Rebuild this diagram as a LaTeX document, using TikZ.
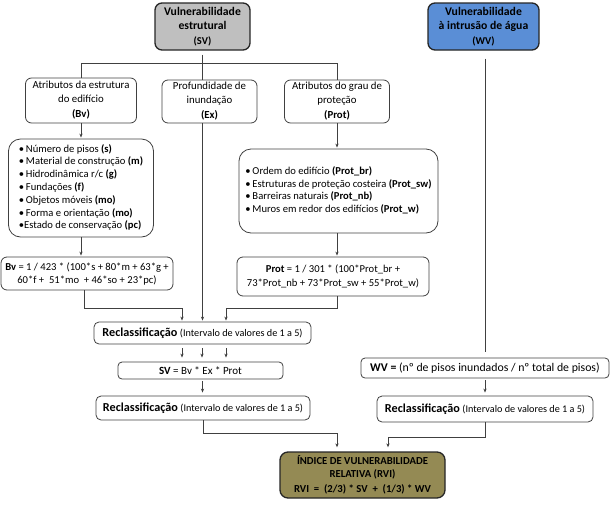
\documentclass[tikz,border=0pt]{standalone}
\usepackage{fontspec}
\setmainfont{Carlito}
\usetikzlibrary{arrows.meta}
\definecolor{svgray}{HTML}{BFBFBF}
\definecolor{wvblue}{HTML}{5A8ED6}
\definecolor{rviolive}{HTML}{948A54}
\definecolor{linegray}{HTML}{404040}
\tikzset{
  box/.style={draw=linegray, line width=0.8pt, rounded corners=6pt, align=center, inner sep=0pt, font=\fontsize{10.8}{13.5}\selectfont},
  topbox/.style={box, draw=black!85, line width=1.3pt, rounded corners=7pt, font=\fontsize{11.7}{14.5}\selectfont\bfseries},
  conn/.style={draw=linegray, line width=0.7pt},
  arr/.style={conn, -{Stealth[length=4pt,width=3.2pt]}},
}
\newcommand{\rcl}{\textbf{\fontsize{12.2}{13}\selectfont Reclassificação} {\fontsize{10.2}{12}\selectfont (Intervalo de valores de 1 a 5)}}
\begin{document}
\begin{tikzpicture}[x=1pt,y=-1pt]
\useasboundingbox (0,0) rectangle (611,504);
% top boxes
\node[topbox, fill=svgray, minimum width=95pt, minimum height=47pt] (SV) at (202.5,26.5) {Vulnerabilidade\\estrutural\\{\fontsize{10.5}{14.5}\selectfont(SV)}};
\node[topbox, fill=wvblue, minimum width=111pt, minimum height=47pt] (WV) at (483.5,26.5) {Vulnerabilidade\\à intrusão de água\\{\fontsize{10.5}{14.5}\selectfont(WV)}};
% second row
\node[box, minimum width=111pt, minimum height=45pt] (Bv) at (81,100.5) {Atributos da estrutura\\do edifício\\[2pt]\textbf{(Bv)}};
\node[box, minimum width=95pt, minimum height=43pt] (Ex) at (209.5,101.5) {Profundidade de\\inundação\\[2pt]\textbf{(Ex)}};
\node[box, minimum width=105pt, minimum height=43pt] (Prot) at (337,101.5) {Atributos do grau de\\proteção\\[2pt]\textbf{(Prot)}};
% lists
\node[box, rounded corners=12pt, minimum width=145pt, minimum height=98pt, font=\fontsize{10.6}{12.8}\selectfont] (BvL) at (81,188) {\begin{tabular}{@{}l@{}}
•\,Número de pisos \textbf{(s)}\\
•\,Material de construção \textbf{(m)}\\
•\,Hidrodinâmica r/c \textbf{(g)}\\
•\,Fundações \textbf{(f)}\\
•\,Objetos móveis \textbf{(mo)}\\
•\,Forma e orientação \textbf{(mo)}\\
•Estado de conservação \textbf{(pc)}
\end{tabular}};
\node[box, rounded corners=12pt, minimum width=199pt, minimum height=84pt, font=\fontsize{10.6}{12.8}\selectfont] (ProtL) at (338.5,191) {\begin{tabular}{@{}l@{}}
•\,Ordem do edifício \textbf{(Prot\_br)}\\
•\,Estruturas de proteção costeira \textbf{(Prot\_sw)}\\
•\,Barreiras naturais \textbf{(Prot\_nb)}\\
•\,Muros em redor dos edifícios \textbf{(Prot\_w)}
\end{tabular}};
% formulas
\node[box, minimum width=172pt, minimum height=33pt, font=\fontsize{10.6}{13}\selectfont] (BvF) at (87,273.5) {\textbf{Bv} = 1 / 423 * (100*s + 80*m + 63*g +\\60*f +\ \ 51*mo\ \ + 46*so + 23*pc)};
\node[box, minimum width=192pt, minimum height=39pt, font=\fontsize{10.6}{14}\selectfont] (ProtF) at (333,276.5) {\textbf{Prot} = 1 / 301 * (100*Prot\_br +\\73*Prot\_nb + 73*Prot\_sw + 55*Prot\_w)};
% reclass and SV
\node[box, rounded corners=5pt, minimum width=217pt, minimum height=22pt] (R1) at (202.5,333) {\rcl};
\node[box, rounded corners=4pt, minimum width=165pt, minimum height=17pt, font=\fontsize{11}{12}\selectfont] (SVF) at (200.5,370.5) {\textbf{SV} = Bv * Ex * Prot};
\node[box, rounded corners=5pt, minimum width=214pt, minimum height=24pt] (R2) at (203,408) {\rcl};
\node[box, rounded corners=4pt, minimum width=248pt, minimum height=20pt, font=\fontsize{11.8}{12}\selectfont] (WVF) at (485,368) {\textbf{WV =} (nº de pisos inundados / nº total de pisos)};
\node[box, rounded corners=5pt, minimum width=216pt, minimum height=26pt] (R3) at (485,409) {\rcl};
\node[box, draw=black!85, line width=1.3pt, rounded corners=8pt, fill=rviolive, minimum width=165pt, minimum height=46pt, font=\fontsize{10.7}{12.5}\selectfont\bfseries] (RVI) at (362.5,475) {ÍNDICE DE VULNERABILIDADE\\RELATIVA (RVI)\\[3pt]RVI\ \ =\ \ (2/3) * SV\ \ +\ \ (1/3) * WV};
% connectors
\coordinate (hb) at (0,63);
\draw[conn, shorten <=4pt] (SV.south) -- (SV.south |- Ex.north);
\draw[conn] (Bv.north) -- (Bv.north |- hb) -| (Prot.north);
\draw[arr, shorten >=1pt] (Bv.south) -- (Bv.south |- BvL.north);
\draw[arr, shorten >=1pt] (BvL.south) -- (BvL.south |- BvF.north);
\draw[arr, shorten >=1pt] (Prot.south) -- (Prot.south |- ProtL.north);
\draw[arr, shorten >=1pt] (ProtL.south -| Prot.south) -- (Prot.south |- ProtF.north);
\draw[arr, shorten >=1pt] (BvF.south -| 84,0) -- ++(0,18) -| ([xshift=-20.5pt]R1.north);
\draw[arr, shorten >=1pt] (SV.south |- Ex.south) -- (SV.south |- R1.north);
\draw[arr, shorten >=1pt] (ProtF.south -| Prot.south) -- ++(0,12) -| ([xshift=23.5pt]R1.north);
\foreach \dx in {-20.5,-0.5,23.5}
  \draw[arr, shorten <=4pt, shorten >=4pt] ([xshift=\dx pt]R1.south) -- ([xshift=\dx pt]R1.south |- SVF.north);
\draw[arr, shorten <=2pt, shorten >=3pt] (SVF.south -| R1.south) -- (R1.south |- R2.north);
\draw[arr, shorten >=4pt] (R2.south) -- ++(0,13) -| ([xshift=-25.5pt]RVI.north);
\draw[arr, shorten >=4pt] (R3.south) -- ++(0,15) -| ([xshift=25.5pt]RVI.north);
\draw[conn, shorten <=8pt, shorten >=6pt] (WV.south -| WVF.north) -- (WVF.north);
\draw[arr, shorten <=2pt, shorten >=3pt] (WVF.south) -- (R3.north);
\end{tikzpicture}
\end{document}
